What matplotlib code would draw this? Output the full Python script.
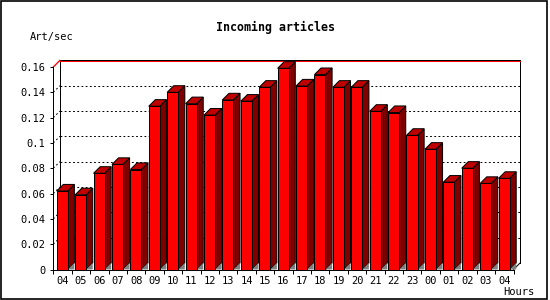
import matplotlib
matplotlib.use("Agg")
import matplotlib.pyplot as plt
from matplotlib.patches import Polygon, Rectangle

hours = ["04", "05", "06", "07", "08", "09", "10", "11", "12", "13", "14", "15",
         "16", "17", "18", "19", "20", "21", "22", "23", "00", "01", "02", "03", "04"]
values = [0.062, 0.059, 0.076, 0.083, 0.079, 0.129, 0.140, 0.131, 0.122, 0.134,
          0.133, 0.144, 0.159, 0.145, 0.154, 0.144, 0.144, 0.125, 0.124, 0.106,
          0.095, 0.069, 0.080, 0.068, 0.072]
yticks = [0, 0.02, 0.04, 0.06, 0.08, 0.1, 0.12, 0.14, 0.16]
ylabels = ["0", "0.02", "0.04", "0.06", "0.08", "0.1", "0.12", "0.14", "0.16"]
title = "Incoming articles"
ylab = "Art/sec"
xlab = "Hours"

FRONT = "#ff0000"
SIDE = "#800000"
TOP = "#c00000"
FLOOR = "#808080"
MONO = "DejaVu Sans Mono"

W, H = 550, 300
fig = plt.figure(figsize=(W / 100, H / 100), dpi=100)
fig.patch.set_facecolor("white")

n = len(values)
ymax = yticks[-1]
px_cat = 18.41
px_unit = 202.5 / ymax
dpx = 6.6
dxc = dpx / px_cat
dyv = dpx / px_unit

x0px, y0px = 53.3, 269.5
wpx = (n + dxc) * px_cat
hpx = (ymax + dyv) * px_unit
ax = fig.add_axes([x0px / W, (H - y0px) / H, wpx / W, hpx / H])
ax.set_xlim(0, n + dxc)
ax.set_ylim(0, ymax + dyv)
ax.set_facecolor("none")
for s in ax.spines.values():
    s.set_visible(False)

lw = 0.72
dots = (0, (1.8, 2.4))
# back plane grid lines
for yv in yticks[1:-1]:
    ax.plot([dxc, n + dxc], [yv + dyv, yv + dyv], color="black", lw=lw,
            linestyle=dots, zorder=1, clip_on=False)
    ax.plot([0, dxc], [yv, yv + dyv], color="black", lw=lw,
            linestyle=dots, zorder=1, clip_on=False)
# back plane borders
ax.plot([dxc, dxc], [dyv, ymax + dyv], color="black", lw=lw, zorder=1, clip_on=False)
ax.plot([n + dxc, n + dxc], [dyv, ymax + dyv], color="black", lw=lw, zorder=1, clip_on=False)
ax.plot([dxc, n + dxc], [ymax + dyv, ymax + dyv], color="black", lw=lw, zorder=1, clip_on=False)
ax.plot([dxc, n + dxc], [ymax + dyv - 1.0 / px_unit] * 2, color="red", lw=lw, zorder=1.1, clip_on=False)
ax.plot([0, dxc], [ymax, ymax + dyv], color="red", lw=lw * 1.3, zorder=1.1, clip_on=False)
ax.plot([n, n + dxc], [0, dyv], color="black", lw=lw, zorder=1, clip_on=False)

# bars
off = 0.185
bw = 0.6
xs = [i + off for i in range(n)]
ax.bar(xs, values, width=bw, align="edge", color=FRONT, edgecolor="black",
       linewidth=lw, zorder=3)
for i, v in enumerate(values):
    xl = xs[i]
    xr = xl + bw
    side = Polygon([(xr, 0), (xr + dxc, dyv), (xr + dxc, v + dyv), (xr, v)],
                   closed=True, facecolor=SIDE, edgecolor="black", lw=lw, zorder=2.5,
                   clip_on=False)
    top = Polygon([(xl, v), (xl + dxc, v + dyv), (xr + dxc, v + dyv), (xr, v)],
                  closed=True, facecolor=TOP, edgecolor="black", lw=lw, zorder=2.5,
                  clip_on=False)
    floor = Polygon([(xr, 0), (xr + dxc, dyv), (xr + dxc, 0)], closed=True,
                    facecolor=FLOOR, edgecolor="none", zorder=2.6, clip_on=False)
    ax.add_patch(side)
    ax.add_patch(top)
    ax.add_patch(floor)

# front axes
ax.plot([0, 0], [0, ymax], color="black", lw=lw, zorder=4, clip_on=False)
ax.plot([0, n], [0, 0], color="black", lw=lw, zorder=4, clip_on=False)

ax.set_yticks(yticks)
ax.set_yticklabels(ylabels, fontfamily=MONO, fontsize=7.5)
ax.tick_params(axis="y", length=2.4, width=lw, pad=3.3, direction="out")
ax.set_xticks(range(n + 1))
ax.set_xticklabels([])
ax.set_xticks([i + 0.5 for i in range(n)], minor=True)
ax.set_xticklabels(hours, minor=True, fontfamily=MONO, fontsize=7.5)
ax.tick_params(axis="x", which="major", length=3, width=lw, direction="out")
ax.tick_params(axis="x", which="minor", length=0, pad=4.6)

fig.text(275 / W, 1 - 27 / H, title, ha="center", va="center",
         fontfamily=MONO, fontweight="bold", fontsize=8.4)
fig.text(30 / W, 1 - 37 / H, ylab, ha="left", va="center", fontfamily=MONO, fontsize=7.5)
fig.text(534 / W, 1 - 292 / H, xlab, ha="right", va="center", fontfamily=MONO, fontsize=7.5)

fig.patches.append(Rectangle((0.5 / W, 1 - 298.5 / H), 546 / W, 298 / H,
                             transform=fig.transFigure, fill=False,
                             edgecolor="black", lw=1.2))

fig.savefig("out.png", dpi=100)
